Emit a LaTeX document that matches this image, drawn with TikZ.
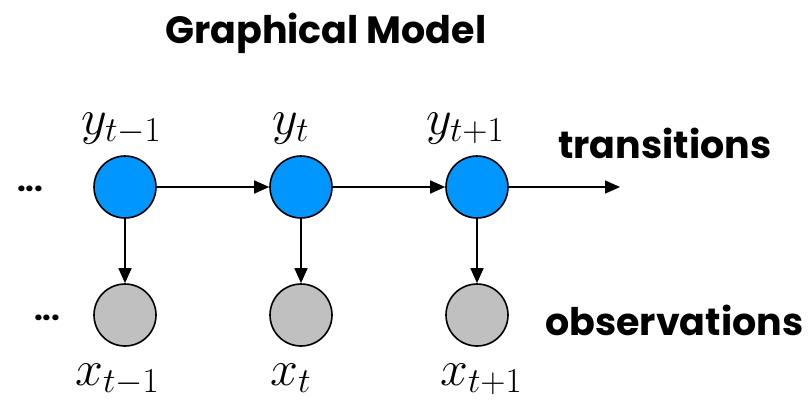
\RequirePackage{fix-cm}
\documentclass[tikz,border=0pt]{standalone}
\usepackage{fontspec}
\setmainfont{Poppins}
\usetikzlibrary{arrows.meta}
\definecolor{nodeblue}{RGB}{0,150,255}
\definecolor{nodegray}{RGB}{192,192,192}
\begin{document}
\begin{tikzpicture}[x=1pt,y=-1pt,
  hid/.style={circle,draw=black,line width=1.6pt,minimum size=62pt,inner sep=0pt,fill=nodeblue},
  obs/.style={circle,draw=black,line width=1.6pt,minimum size=62pt,inner sep=0pt,fill=nodegray},
  conn/.style={line width=1.6pt,-{Triangle[length=15pt,width=13pt]}},
  mathlbl/.style={anchor=base west,inner sep=0pt,font=\fontsize{50}{58}\selectfont},
  word/.style={anchor=base west,inner sep=0pt,font=\fontsize{38}{44}\selectfont\bfseries},
  dotsw/.style={anchor=base west,inner sep=0pt,font=\fontsize{31}{36}\selectfont\bfseries}
]
\useasboundingbox (0,0) rectangle (810,400);
\node[word] (title) at (165,43) {Graphical Model};
\node[hid] (y1) at (125,187) {};
\node[hid] (y2) at (301,187) {};
\node[hid] (y3) at (477,187) {};
\node[obs] (x1) at (125,315) {};
\node[obs] (x2) at (301,315) {};
\node[obs] (x3) at (477,315) {};
\coordinate (yend) at (620,187);
\draw[conn] (y1) -- (y2);
\draw[conn] (y2) -- (y3);
\draw[conn] (y3) -- (yend);
\draw[conn] (y1) -- (x1);
\draw[conn] (y2) -- (x2);
\draw[conn] (y3) -- (x3);
\node[mathlbl] (ly1) at (81,134) {$y_{t-1}$};
\node[mathlbl] (ly2) at (272,134) {$y_{t}$};
\node[mathlbl] (ly3) at (426,134) {$y_{t+1}$};
\node[mathlbl] (lx1) at (75,385) {$x_{t-1}$};
\node[mathlbl] (lx2) at (270,385) {$x_{t}$};
\node[mathlbl] (lx3) at (440,385) {$x_{t+1}$};
\node[word] (trans) at (558,158) {transitions};
\node[word] (obsw) at (545,335) {observations};
\node[dotsw] (dots1) at (17,191) {...};
\node[dotsw] (dots2) at (34,320) {...};
\end{tikzpicture}
\end{document}
